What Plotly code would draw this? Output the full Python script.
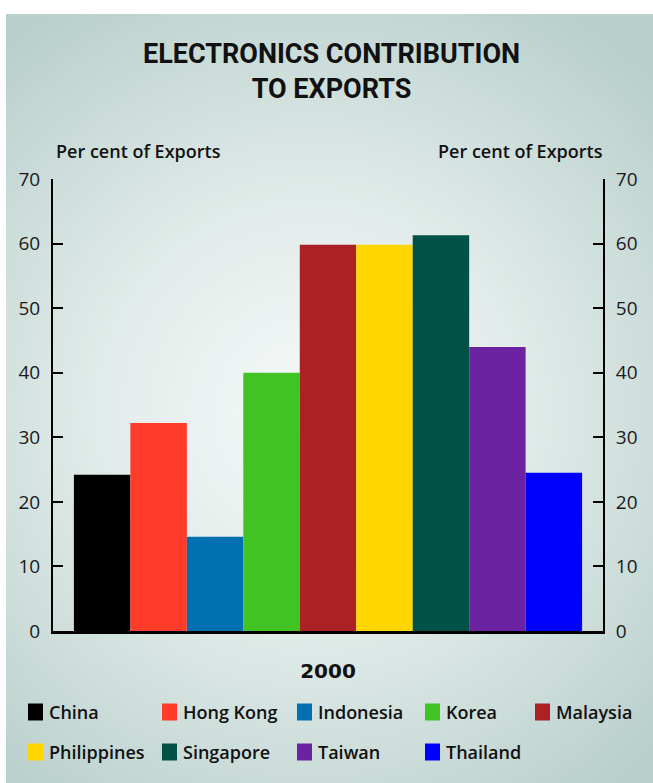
import base64
import plotly.graph_objects as go

# ---- data ----
countries = ["China", "Hong Kong", "Indonesia", "Korea", "Malaysia",
             "Philippines", "Singapore", "Taiwan", "Thailand"]
values = [24.2, 32.2, 14.6, 40.0, 59.8, 59.8, 61.3, 44.0, 24.5]
colors = ["#000000", "#ff3c2a", "#0070b0", "#40c323", "#ab2124",
          "#ffd600", "#005246", "#6c23a2", "#0000ff"]
year = ["2000"]
y_ticks = [0, 10, 20, 30, 40, 50, 60, 70]

W, H = 653, 783
L, R, T, B = 53, 50, 179, 152
pw, ph = W - L - R, H - T - B

# ---- background gradient (svg data uri) ----
svg = f'''<svg xmlns="http://www.w3.org/2000/svg" width="647" height="769" viewBox="0 0 647 769">
<defs><radialGradient id="g" gradientUnits="userSpaceOnUse" cx="305" cy="400" r="480">
<stop offset="0" stop-color="#f6f9f9"/>
<stop offset="0.45" stop-color="#e1ebe9"/>
<stop offset="1" stop-color="#b8cfcb"/>
</radialGradient></defs>
<rect width="647" height="769" fill="url(#g)"/></svg>'''
src = "data:image/svg+xml;base64," + base64.b64encode(svg.encode()).decode()

fig = go.Figure()
for c, v, col in zip(countries, values, colors):
    fig.add_trace(go.Bar(x=year, y=[v], name=c, marker=dict(color=col, line=dict(width=0)),
                         showlegend=False))

tick_font = dict(family="Open Sans, DejaVu Sans, sans-serif", size=19, color="#1a1a1a")

fig.update_layout(
    width=W, height=H,
    margin=dict(l=L, r=R, t=T, b=B, pad=0),
    paper_bgcolor="white",
    plot_bgcolor="rgba(0,0,0,0)",
    barmode="group", bargap=0.076, bargroupgap=0,
    xaxis=dict(showline=True, linecolor="black", linewidth=2.5, ticks="",
               showgrid=False, tickfont=dict(family="DejaVu Sans, sans-serif", size=20,
                                              color="#111", weight="bold"),
               ticklabelstandoff=20, fixedrange=True),
    yaxis=dict(range=[0, 70], tickvals=y_ticks, showline=True, linecolor="black", linewidth=2,
               ticks="inside", ticklen=10, tickwidth=2, tickcolor="black",
               showgrid=False, zeroline=False, tickfont=tick_font, ticklabelstandoff=7),
    yaxis2=dict(range=[0, 70], tickvals=y_ticks, overlaying="y", side="right", anchor="x",
                showline=True, linecolor="black", linewidth=2,
                ticks="inside", ticklen=10, tickwidth=2, tickcolor="black",
                showgrid=False, zeroline=False, tickfont=tick_font, ticklabelstandoff=7),
    images=[dict(source=src, xref="paper", yref="paper",
                 x=(6 - L) / pw, y=(H - B - 14) / ph,
                 sizex=(W - 6) / pw, sizey=(H - 14) / ph,
                 sizing="stretch", xanchor="left", yanchor="top", layer="below")],
)
# invisible trace to keep the right axis alive
fig.add_trace(go.Scatter(x=year, y=[None], yaxis="y2", showlegend=False, hoverinfo="skip"))

def px_x(p):
    return (p - L) / pw

def px_y(p):
    return (H - B - p) / ph

ann = []
title_font = dict(family="Roboto, Liberation Sans, sans-serif", size=27, color="#111", weight="bold")
ann.append(dict(text="ELECTRONICS CONTRIBUTION<br>TO EXPORTS", x=px_x(331), y=px_y(71),
                xref="paper", yref="paper", showarrow=False, font=title_font,
                xanchor="center", yanchor="middle", align="center"))
lab_font = dict(family="Open Sans, sans-serif", size=18, color="#111", weight=600)
ann.append(dict(text="Per cent of Exports", x=px_x(54), y=px_y(151), xref="paper", yref="paper",
                showarrow=False, font=lab_font, xanchor="left", yanchor="middle"))
ann.append(dict(text="Per cent of Exports", x=px_x(605), y=px_y(151), xref="paper", yref="paper",
                showarrow=False, font=lab_font, xanchor="right", yanchor="middle"))

# manual legend
col_x = [28, 162, 297, 425, 535]
row_y = [712, 752]
shapes = []
leg_font = dict(family="Open Sans, sans-serif", size=18, color="#111", weight=600)
for i, (c, col) in enumerate(zip(countries, colors)):
    r, k = divmod(i, 5)
    x0 = col_x[k]
    yc = row_y[r]
    shapes.append(dict(type="rect", xref="paper", yref="paper",
                       x0=px_x(x0), x1=px_x(x0 + 15), y0=px_y(yc + 8.5), y1=px_y(yc - 8.5),
                       fillcolor=col, line=dict(width=0)))
    ann.append(dict(text=c, x=px_x(x0 + 19), y=px_y(yc), xref="paper", yref="paper",
                    showarrow=False, font=leg_font, xanchor="left", yanchor="middle"))

fig.update_layout(annotations=ann, shapes=shapes)
fig.write_html("out.html", config={"displayModeBar": False},
               post_script="document.body.style.margin='0px';document.body.style.overflow='hidden';")
